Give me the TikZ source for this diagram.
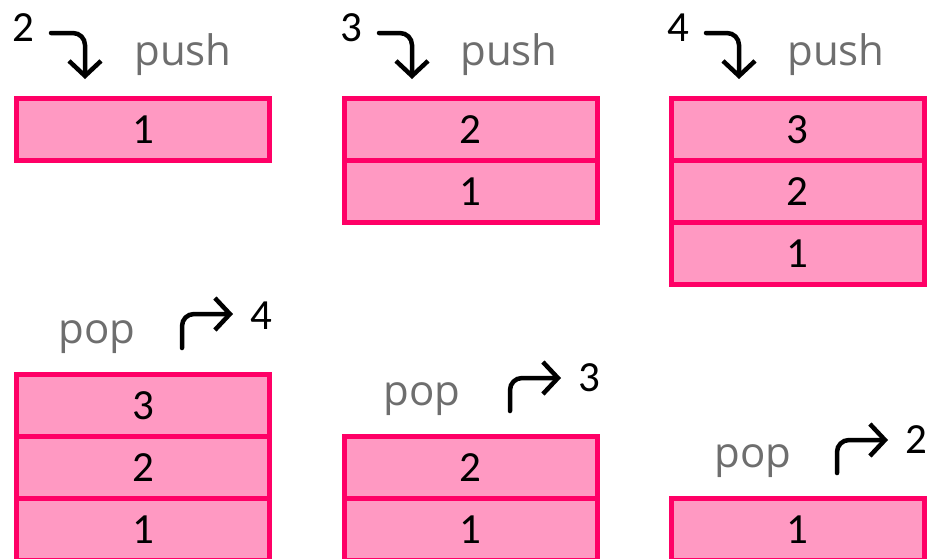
\documentclass[tikz,border=0pt]{standalone}
\usepackage{fontspec}
\setmainfont{Carlito}
\newfontfamily\opfont{Open Sans}
\usetikzlibrary{arrows.meta}
\definecolor{cellfill}{HTML}{FF99C2}
\definecolor{cellline}{HTML}{FF0066}
\definecolor{opgray}{HTML}{6E6E6E}
\tikzset{
  cell/.style={draw=cellline, fill=cellfill, line width=5pt,
    minimum width=253pt, minimum height=62pt, inner sep=0pt,
    font=\fontsize{43}{50}\selectfont},
  val/.style={inner sep=0pt, font=\fontsize{43}{50}\selectfont},
  oplabel/.style={inner sep=0pt, anchor=base, text=opgray,
    font=\opfont\fontsize{42}{50}\selectfont},
  flow/.style={line width=4.5pt, line cap=round, rounded corners=12pt,
    -{Straight Barb[length=15pt,width=32pt]}}
}
\begin{document}
\begin{tikzpicture}[x=1pt,y=-1pt]
\useasboundingbox (0,0) rectangle (928,558);

% ---- push 2 onto [1]
\node[cell] (a1) at (143,129.5) {1};
\node[val] (a2) at (23,28) {2};
\node[oplabel] (apush) at (183,65) {push};
\coordinate (as) at (51,33);
\coordinate (ak) at (85,33);
\coordinate (ae) at (85,79);
\draw[flow] (as) -- (ak) -- (ae);

% ---- push 3 onto [2,1]
\node[cell] (b2) at (470.5,129.5) {2};
\node[cell] (b1) at (470.5,191.5) {1};
\node[val] (b3) at (351,28) {3};
\node[oplabel] (bpush) at (509,65) {push};
\coordinate (bs) at (379,33);
\coordinate (bk) at (412,33);
\coordinate (be) at (412,79);
\draw[flow] (bs) -- (bk) -- (be);

% ---- push 4 onto [3,2,1]
\node[cell] (c3) at (797.5,129.5) {3};
\node[cell] (c2) at (797.5,191.5) {2};
\node[cell] (c1) at (797.5,253.5) {1};
\node[val] (c4) at (678,28) {4};
\node[oplabel] (cpush) at (836,65) {push};
\coordinate (cs) at (706,33);
\coordinate (ck) at (739,33);
\coordinate (ce) at (739,79);
\draw[flow] (cs) -- (ck) -- (ce);

% ---- pop 4: stack [3,2,1]
\node[cell] (d3) at (143,405.5) {3};
\node[cell] (d2) at (143,467.5) {2};
\node[cell] (d1) at (143,529.5) {1};
\node[oplabel] (dpop) at (97,343) {pop};
\node[val] (d4) at (261,316) {4};
\coordinate (ds) at (182,348);
\coordinate (dk) at (182,314);
\coordinate (de) at (233,314);
\draw[flow] (ds) -- (dk) -- (de);

% ---- pop 3: stack [2,1]
\node[cell] (e2) at (470.5,467.5) {2};
\node[cell] (e1) at (470.5,529.5) {1};
\node[oplabel] (epop) at (422,405) {pop};
\node[val] (e3) at (589,378) {3};
\coordinate (es) at (510,411);
\coordinate (ek) at (510,378);
\coordinate (ee) at (561,378);
\draw[flow] (es) -- (ek) -- (ee);

% ---- pop 2: stack [1]
\node[cell] (f1) at (797.5,529.5) {1};
\node[oplabel] (fpop) at (753,467) {pop};
\node[val] (f2) at (916,440) {2};
\coordinate (fs) at (837,473);
\coordinate (fk) at (837,440);
\coordinate (fe) at (888,440);
\draw[flow] (fs) -- (fk) -- (fe);
\end{tikzpicture}
\end{document}
